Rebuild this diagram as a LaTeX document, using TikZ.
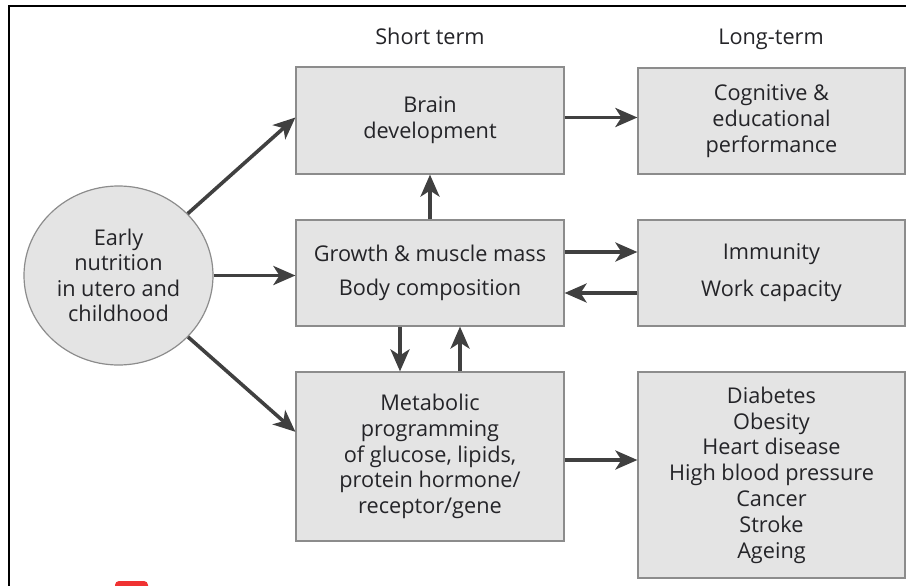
\documentclass[tikz,border=0pt]{standalone}
\usepackage{fontspec}
\setmainfont{Open Sans}
\usetikzlibrary{arrows.meta,calc,shapes.geometric}
\definecolor{boxfill}{RGB}{228,228,228}
\definecolor{boxline}{RGB}{140,140,140}
\definecolor{arrowcol}{RGB}{64,64,64}
\definecolor{txtcol}{RGB}{36,36,40}
\definecolor{markred}{RGB}{240,50,50}
\tikzset{
  box/.style={draw=boxline, line width=1.2pt, fill=boxfill, minimum width=268pt,
    align=center, text=txtcol, font=\fontsize{21.7}{25.8}\selectfont, inner sep=0pt},
  title/.style={text=txtcol, font=\fontsize{21.7}{25.8}\selectfont, anchor=base, inner sep=0pt},
  conn/.style={draw=arrowcol, line width=3.6pt,
    -{Stealth[length=22pt,width=19pt,inset=6pt]}},
}
\begin{document}
\begin{tikzpicture}[x=1pt,y=-1pt]
\clip (0,0) rectangle (906,586);
\useasboundingbox (0,0) rectangle (906,586);
\draw[line width=1.5pt, black] (9,6) rectangle (930,610);
\fill[markred, rounded corners=4pt] (115,581) rectangle (148,600);

\node[title] (tshort) at (430,45) {Short term};
\node[title] (tlong) at (771,45) {Long-term};

\node[ellipse, draw=boxline, line width=1.2pt, fill=boxfill, minimum width=189pt,
  minimum height=179pt, inner sep=0pt, align=center, text=txtcol,
  font=\fontsize{21.7}{25.3}\selectfont] (circ) at (118.5,275.5)
  {Early\\nutrition\\in utero and\\childhood};

\node[box, minimum height=107pt] (brain) at (430,120.5) {Brain\\development};
\node[box, minimum height=106pt] (growth) at (430,273) {Growth \& muscle mass\\[8pt]Body composition};
\node[box, minimum height=169pt] (metab) at (430,456.5) {Metabolic\\programming\\of glucose, lipids,\\protein hormone/\\receptor/gene};

\node[box, minimum width=267pt, minimum height=106pt] (cog) at (771.5,121) {Cognitive \&\\educational\\performance};
\node[box, minimum width=267pt, minimum height=106pt] (immun) at (771.5,273) {Immunity\\[11pt]Work capacity};
\node[box, minimum width=267pt, minimum height=206pt] (dis) at (771.5,475) {Diabetes\\Obesity\\Heart disease\\High blood pressure\\Cancer\\Stroke\\Ageing};

\coordinate (mW) at ($(metab.north west)!0.355!(metab.south west)$);
\coordinate (bW) at ($(brain.west)+(0,-3)$);
\coordinate (bE) at ($(brain.east)+(0,-3)$);
\coordinate (gE1) at ($(growth.east)+(0,-21)$);
\coordinate (iW2) at ($(immun.west)+(0,20)$);
\coordinate (gS1) at ($(growth.south)+(-30,0)$);
\coordinate (mN2) at ($(metab.north)+(30,0)$);
\coordinate (mE) at ($(metab.east)+(0,3.5)$);

\draw[conn] (circ) -- (bW);
\draw[conn] (circ.east) -- (circ.east -| growth.west);
\draw[conn] (circ) -- (mW);

\draw[conn] (bE) -- (bE -| cog.west);
\draw[conn] (growth.north) -- (brain.south);
\draw[conn] (gE1) -- (gE1 -| immun.west);
\draw[conn] (iW2) -- (iW2 -| growth.east);
\draw[conn] (gS1) -- (gS1 |- metab.north);
\draw[conn] (mN2) -- (mN2 |- growth.south);
\draw[conn] (mE) -- (mE -| dis.west);
\end{tikzpicture}
\end{document}
